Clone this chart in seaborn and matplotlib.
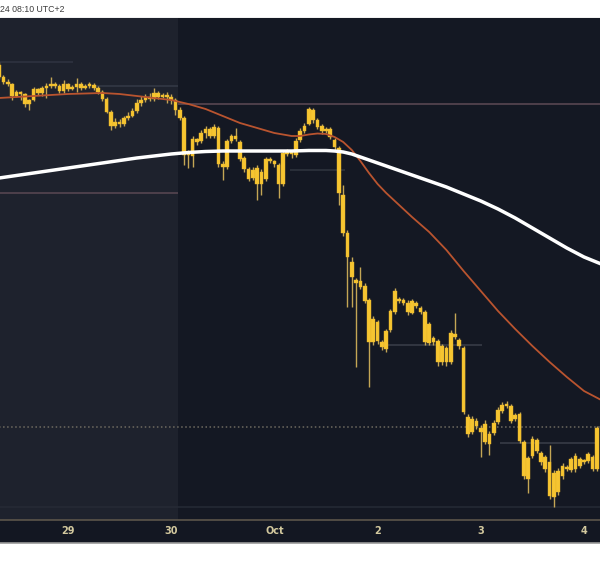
import numpy as np
import pandas as pd
import matplotlib
matplotlib.use("Agg")
import matplotlib.pyplot as plt
import seaborn as sns
from matplotlib.patches import Rectangle
from matplotlib.lines import Line2D

# ---------------- data (hourly candles, hours relative to Sep 29 00:00) ----------------
hours = list(range(-16, 124))

opens = [66350, 66230, 66180, 66160, 66040, 66080, 66060, 65960, 66000, 66110,
         66070, 66120, 66140, 66150, 66140, 66090, 66160, 66110, 66130, 66160,
         66120, 66140, 66150, 66120, 66080, 66010, 65880, 65740, 65780, 65760,
         65820, 65840, 65890, 65970, 66000, 66030, 66010, 66070, 66030, 66050,
         66030, 66000, 65900, 65820, 65450, 65440, 65610, 65590, 65670, 65710,
         65640, 65720, 65360, 65330, 65590, 65640, 65580, 65420, 65310, 65220,
         65320, 65160, 65210, 65410, 65390, 65350, 65160, 65470, 65460, 65450,
         65600, 65690, 65760, 65900, 65800, 65740, 65710, 65710, 65600, 65520,
         65050, 64670, 64380, 64200, 64130, 64140, 64000, 63580, 63780, 63580,
         63510, 63700, 63880, 64010, 64000, 63970, 63870, 63970, 63920, 63880,
         63760, 63620, 63590, 63540, 63520, 63380, 63660, 63600, 63520, 62830,
         62680, 62790, 62720, 62580, 62660, 62670, 62780, 62890, 62960, 62940,
         62850, 62860, 62580, 62420, 62440, 62600, 62470, 62430, 62380, 62270,
         62080, 62240, 62330, 62300, 62310, 62340, 62390, 62390, 62430, 62310]

closes = [66230, 66180, 66160, 66040, 66080, 66060, 65960, 66000, 66110, 66070,
          66120, 66140, 66150, 66140, 66090, 66160, 66110, 66130, 66160, 66120,
          66140, 66150, 66120, 66080, 66010, 65880, 65740, 65780, 65760, 65820,
          65840, 65890, 65970, 66000, 66030, 66010, 66070, 66030, 66050, 66030,
          66000, 65900, 65820, 65450, 65480, 65610, 65580, 65670, 65710, 65640,
          65730, 65360, 65330, 65590, 65640, 65610, 65410, 65310, 65210, 65300,
          65160, 65280, 65410, 65390, 65360, 65160, 65470, 65460, 65470, 65590,
          65690, 65740, 65910, 65800, 65730, 65690, 65690, 65630, 65530, 65070,
          64670, 64430, 64230, 64170, 64190, 63990, 63580, 63810, 63590, 63530,
          63690, 63890, 64090, 63990, 63970, 63880, 63990, 63940, 63880, 63580,
          63570, 63580, 63380, 63380, 63380, 63670, 63630, 63540, 62880, 62660,
          62810, 62740, 62680, 62760, 62560, 62770, 62900, 62950, 62940, 62790,
          62810, 62590, 62240, 62210, 62610, 62490, 62380, 62310, 62040, 62030,
          62290, 62340, 62310, 62410, 62440, 62410, 62380, 62460, 62310, 62720]

highs = [66380, 66250, 66210, 66170, 66100, 66090, 66070, 66010, 66130, 66120,
         66140, 66170, 66230, 66180, 66160, 66200, 66170, 66150, 66220, 66180,
         66160, 66180, 66170, 66140, 66100, 66030, 65900, 65820, 65810, 65840,
         65880, 65920, 66010, 66040, 66060, 66070, 66120, 66090, 66070, 66080,
         66060, 66020, 65930, 65840, 65500, 65640, 65620, 65700, 65740, 65730,
         65760, 65740, 65390, 65610, 65660, 65720, 65600, 65440, 65330, 65330,
         65350, 65310, 65430, 65430, 65400, 65370, 65500, 65510, 65500, 65620,
         65720, 65770, 65930, 65920, 65820, 65760, 65730, 65730, 65620, 65540,
         65150, 64700, 64430, 64220, 64330, 64170, 64020, 63840, 63800, 63600,
         63710, 63910, 64120, 64030, 64020, 64000, 64010, 63990, 63940, 63900,
         63780, 63640, 63610, 63560, 63540, 63700, 63870, 63620, 63540, 62860,
         62840, 62820, 62750, 62800, 62690, 62800, 62930, 62980, 62990, 62960,
         62870, 62880, 62600, 62440, 62640, 62620, 62490, 62450, 62550, 62300,
         62320, 62370, 62350, 62430, 62470, 62430, 62410, 62480, 62450, 62740]

lows = [66210, 66160, 66140, 66000, 66030, 66000, 65930, 65900, 65990, 66050,
        66040, 66020, 66120, 66120, 66070, 66070, 66090, 66100, 66080, 66100,
        66110, 66120, 66100, 66060, 65990, 65870, 65700, 65720, 65730, 65740,
        65800, 65830, 65870, 65940, 65980, 65990, 65990, 66010, 66020, 65970,
        65960, 65850, 65800, 65350, 65320, 65330, 65550, 65570, 65620, 65620,
        65620, 65330, 65200, 65310, 65570, 65590, 65390, 65280, 65190, 65200,
        65000, 65050, 65190, 65370, 65330, 65020, 65140, 65440, 65420, 65430,
        65580, 65670, 65750, 65770, 65710, 65660, 65670, 65610, 65500, 64950,
        64640, 63930, 63930, 63330, 64110, 63970, 63130, 63550, 63560, 63500,
        63480, 63680, 63860, 63970, 63950, 63850, 63860, 63920, 63860, 63550,
        63550, 63550, 63340, 63350, 63340, 63360, 63610, 63510, 62860, 62630,
        62660, 62710, 62430, 62560, 62450, 62650, 62760, 62870, 62920, 62770,
        62790, 62570, 62210, 62070, 62420, 62470, 62350, 62280, 62010, 61930,
        62050, 62210, 62290, 62280, 62280, 62320, 62360, 62370, 62290, 62290]

# slow moving average (white), read every few hours
ma_slow_hours = [-16, -12, -8, -4, 0, 4, 8, 12, 16, 20, 24, 28, 32, 36, 40, 44,
                 48, 52, 56, 60, 62, 64, 66, 68, 70, 72, 76, 80, 84, 88, 92, 96,
                 100, 104, 108, 112, 116, 120, 124]
ma_slow = [65220, 65245, 65270, 65295, 65320, 65345, 65370, 65395, 65420, 65440,
           65460, 65475, 65485, 65490, 65490, 65490, 65490, 65490, 65495, 65495,
           65490, 65480, 65460, 65430, 65400, 65370, 65310, 65250, 65190, 65130,
           65060, 64990, 64910, 64820, 64720, 64620, 64520, 64430, 64360]

# fast moving average (orange)
ma_fast_hours = [-16, -8, 0, 8, 12, 16, 20, 24, 28, 32, 36, 40, 44, 48, 52, 54,
                 56, 58, 60, 62, 64, 66, 68, 70, 72, 74, 76, 78, 80, 84, 88, 92,
                 96, 100, 104, 108, 112, 116, 120, 124]
ma_fast = [66020, 66040, 66060, 66070, 66060, 66040, 66020, 66000, 65960, 65910,
           65840, 65770, 65720, 65670, 65640, 65640, 65655, 65665, 65660, 65630,
           65580, 65500, 65390, 65270, 65160, 65070, 64990, 64910, 64830, 64680,
           64500, 64290, 64090, 63890, 63710, 63540, 63380, 63230, 63090, 63000]

# horizontal price levels: price, start hour, end hour
level_price = [66380, 66140, 65960, 65070, 65300, 63550, 62730, 62570, 61930]
level_start = [-16, 6.3, 25.6, -16, 51.6, 73.7, -16, 100.5, -16]
level_end = [1.2, 25.6, 124, 25.6, 64.4, 96.3, 124, 122.6, 124]
level_color = ['#2f3441', '#353a47', '#5e4a55', '#5b4853', '#30353f', '#3a3f49',
               '#6e6a60', '#3a3f49', '#262b36']
level_style = ['-', '-', '-', '-', '-', '-', ':', '-', '-']

# weekend shading
weekend_start, weekend_end = -16, 25.6

tick_hours = [0, 24, 48, 72, 96, 120]
tick_labels = ['29', '30', 'Oct', '2', '3', '4']

# ---------------- drawing ----------------
sns.set_theme(style="dark")
plt.rcParams['font.family'] = ['DejaVu Sans']

W, H = 600, 566
fig = plt.figure(figsize=(W / 100, H / 100), dpi=100, facecolor='white')

# dark chart panel (plot + time axis strip), behind the axes
fig.patches.append(Rectangle((0, (H - 543) / H), 1, 525 / H, transform=fig.transFigure,
                             facecolor='#131722', edgecolor='none', zorder=-5))
fig.add_artist(Line2D([0, 1], [(H - 542.5) / H] * 2, transform=fig.transFigure,
                      color='#9a9a9a', lw=1.2, zorder=-4))
fig.add_artist(Line2D([0, 1], [(H - 17.5) / H] * 2, transform=fig.transFigure,
                      color='#b8b8b8', lw=1.0, zorder=-4))
fig.text(0.5 / W, 1 - 10 / H, "24 08:10 UTC+2", fontsize=6.3, color='#3c3c3c',
         family=['Liberation Sans', 'DejaVu Sans'], ha='left', va='center')

ax = fig.add_axes([0, (H - 520) / H, 1, 502 / H])
ax.set_zorder(1)
ax.set_facecolor('#141823')
ax.grid(False)

ax.axvspan(weekend_start, weekend_end, color='#1e222d', zorder=0, lw=0)

for p, s, e, c, ls in zip(level_price, level_start, level_end, level_color, level_style):
    ax.hlines(p, s, e, colors=c, linestyles=ls, lw=1.1, zorder=1)

df = pd.DataFrame({'hour': hours, 'open': opens, 'close': closes,
                   'high': highs, 'low': lows})
body_low = df[['open', 'close']].min(axis=1)
body_h = (df['close'] - df['open']).abs().clip(lower=18)

ax.vlines(df['hour'], df['low'], df['high'], colors='#c4a655', lw=1.0, zorder=2)
ax.bar(df['hour'], body_h, bottom=body_low, width=0.84, color='#f6c531',
       edgecolor='#e9b62a', linewidth=0.3, zorder=3)

sns.lineplot(x=ma_fast_hours, y=ma_fast, ax=ax, color='#b9542f', lw=1.3, zorder=4)
sns.lineplot(x=ma_slow_hours, y=ma_slow, ax=ax, color='white', lw=2.5, zorder=5)

ax.set_xlim(-15.81, 123.72)
ax.set_ylim(61800, 66820)
ax.set_yticks([])
ax.set_xticks(tick_hours)
ax.set_xticklabels(tick_labels)
ax.tick_params(axis='x', length=0, pad=4, labelsize=7, labelcolor='#d2c89e')
for lab in ax.get_xticklabels():
    lab.set_fontweight('bold')
ax.set_xlabel('')
ax.set_ylabel('')
for side in ['top', 'left', 'right']:
    ax.spines[side].set_visible(False)
ax.spines['bottom'].set_color('#5c554a')
ax.spines['bottom'].set_linewidth(1.2)

fig.savefig('out.png', dpi=100, facecolor='white')
